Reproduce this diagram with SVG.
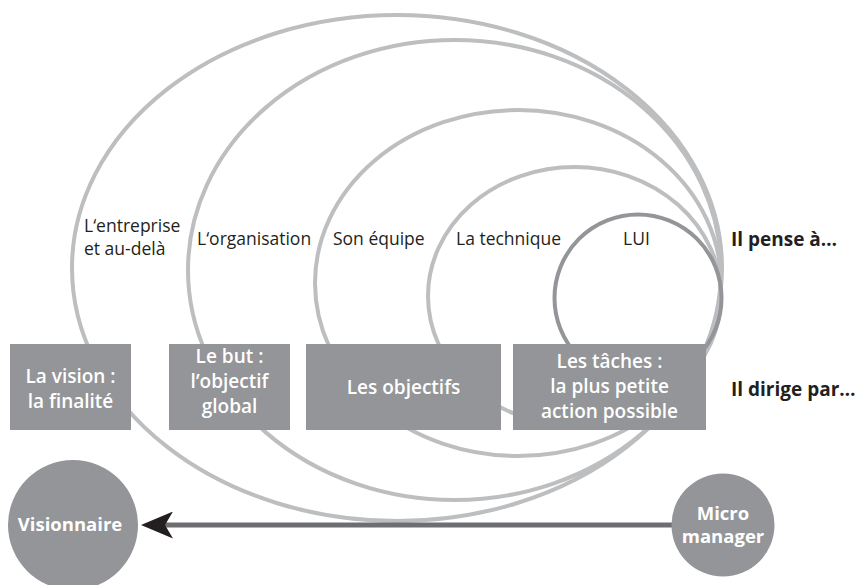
<svg xmlns="http://www.w3.org/2000/svg" width="859" height="585" viewBox="0 0 859 585">
<defs>
<style>
.ring{fill:none;stroke:#bcbec0;stroke-width:4}
.lui{fill:none;stroke:#939598;stroke-width:4}
.box{fill:#939598}
.lbl{font-family:"Open Sans","Liberation Sans",sans-serif;font-size:17.5px;fill:#231f20}
.blbl{font-family:"Open Sans","Liberation Sans",sans-serif;font-size:19px;font-weight:700;fill:#231f20}
.wt{font-family:"Open Sans","Liberation Sans",sans-serif;font-size:19px;font-weight:600;fill:#ffffff;text-anchor:middle}
.wb{font-family:"Open Sans","Liberation Sans",sans-serif;font-size:18.5px;font-weight:700;fill:#ffffff;text-anchor:middle}
</style>
<marker id="ah" viewBox="0 0 32 27" refX="8" refY="13.5" markerWidth="32" markerHeight="27" markerUnits="userSpaceOnUse" orient="auto">
<path d="M0,0 L32,13.5 L0,27 L8,13.5 Z" fill="#231f20"/>
</marker>
</defs>
<rect width="859" height="585" fill="#ffffff"/>
<g id="rings">
<ellipse id="ring-entreprise" class="ring" cx="397" cy="268" rx="325" ry="253"/>
<ellipse id="ring-organisation" class="ring" cx="454.5" cy="270" rx="266.5" ry="230"/>
<ellipse id="ring-equipe" class="ring" cx="518" cy="283" rx="203" ry="173"/>
<ellipse id="ring-technique" class="ring" cx="574.5" cy="296" rx="146.5" ry="129"/>
<circle id="ring-lui" class="lui" cx="638" cy="298" r="83.5"/>
</g>
<g id="ring-labels">
<text class="lbl" x="84" y="232">L‘entreprise</text>
<text class="lbl" x="84" y="255">et au-delà</text>
<text class="lbl" x="197" y="245">L‘organisation</text>
<text class="lbl" x="333" y="245">Son équipe</text>
<text class="lbl" x="456" y="245">La technique</text>
<text class="lbl" x="623" y="245">LUI</text>
<text class="blbl" x="731" y="246">Il pense à…</text>
<text class="blbl" x="731" y="396">Il dirige par…</text>
</g>
<g id="box-vision">
<rect class="box" x="10" y="344" width="121" height="86"/>
<text class="wt" x="70.5" y="383">La vision :</text>
<text class="wt" x="70.5" y="408">la finalité</text>
</g>
<g id="box-but">
<rect class="box" x="169" y="344" width="121" height="86"/>
<text class="wt" x="229.5" y="363">Le but :</text>
<text class="wt" x="229.5" y="388">l’objectif</text>
<text class="wt" x="229.5" y="413">global</text>
</g>
<g id="box-objectifs">
<rect class="box" x="306" y="344" width="195" height="86"/>
<text class="wt" x="403.5" y="394">Les objectifs</text>
</g>
<g id="box-taches">
<rect class="box" x="513" y="344" width="193" height="86"/>
<text class="wt" x="609.5" y="368">Les tâches :</text>
<text class="wt" x="609.5" y="393">la plus petite</text>
<text class="wt" x="609.5" y="418">action possible</text>
</g>
<g id="connectors">
<line x1="672" y1="525" x2="165" y2="525" stroke="#6d6e71" stroke-width="5" marker-end="url(#ah)"/>
</g>
<g id="node-visionnaire">
<circle class="box" cx="73" cy="525" r="65"/>
<text class="wb" x="70" y="531">Visionnaire</text>
</g>
<g id="node-micromanager">
<circle class="box" cx="723" cy="525" r="51.5"/>
<text class="wb" x="723" y="520">Micro</text>
<text class="wb" x="723" y="543">manager</text>
</g>
</svg>
